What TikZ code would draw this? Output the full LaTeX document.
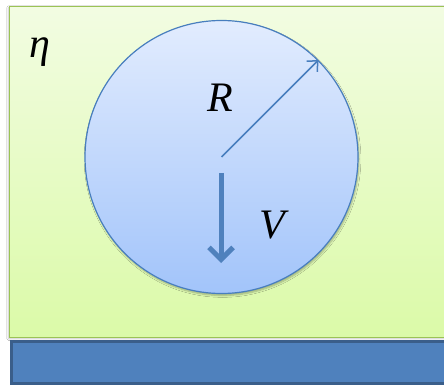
\documentclass[tikz,border=0pt]{standalone}
\usepackage{fontspec}
\setmainfont{Liberation Serif}
\usetikzlibrary{arrows.meta,shadows.blur}
\definecolor{gtop}{RGB}{242,252,226}
\definecolor{gbot}{RGB}{219,250,168}
\definecolor{gedge}{RGB}{155,195,85}
\definecolor{ctop}{RGB}{226,236,254}
\definecolor{cbot}{RGB}{162,196,250}
\definecolor{cedge}{RGB}{72,126,190}
\definecolor{bfill}{RGB}{79,129,189}
\definecolor{bedge}{RGB}{58,94,138}
\tikzset{
  lbl/.style={font=\fontsize{42}{42}\selectfont\itshape, inner sep=0pt},
}
\begin{document}
\begin{tikzpicture}[x=1pt,y=-1pt]
\useasboundingbox (0,0) rectangle (444,387);
\fill[white] (0,0) rectangle (444,387);
% fluid
\node[draw=gedge, line width=1.2pt, top color=gtop, bottom color=gbot, minimum width=450pt, minimum height=331pt, anchor=north west, inner sep=0pt, blur shadow={shadow blur steps=6, shadow xshift=-1pt, shadow yshift=-1pt, shadow opacity=25}] (fluid) at (9,6) {};
% wall
\node[draw=bedge, line width=3pt, fill=bfill, minimum width=450pt, minimum height=42pt, anchor=north west, inner sep=0pt] (wall) at (9.5,339.5) {};
% sphere
\node[circle, draw=cedge, line width=1.2pt, top color=ctop, bottom color=cbot, minimum size=273pt, inner sep=0pt, blur shadow={shadow blur steps=6, shadow xshift=1pt, shadow yshift=-2pt, shadow opacity=30}] (sphere) at (221.5,157) {};
\coordinate (c) at (sphere.center);
\draw[cedge, line width=1.5pt, -{Straight Barb[length=8pt,width=15pt]}] (c) -- (sphere.45);
\coordinate (vs) at (221,173);
\coordinate (ve) at (221,263);
\draw[bfill, line width=5pt, -{Straight Barb[length=12pt,width=24pt,line width=5pt]}] (vs) -- (ve);
\node[lbl] (R) at (220,98) {R};
\node[lbl] (V) at (272,225) {V};
\node[lbl] (eta) at (40,52) {η};
\end{tikzpicture}
\end{document}
